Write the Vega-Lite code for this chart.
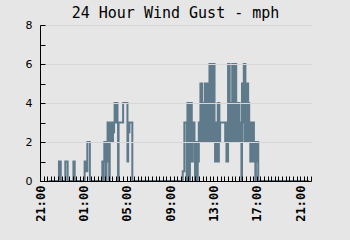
{
"$schema": "https://vega.github.io/schema/vega-lite/v6.json",
"width": 271, "height": 156,
"autosize": {"type": "none"},
"padding": {"left": 40, "top": 25, "right": 39, "bottom": 59},
"background": "#e6e6e6",
"title": {"text": "24 Hour Wind Gust - mph", "font": "DejaVu Sans Mono", "fontSize": 15, "fontWeight": "normal", "color": "#000000", "anchor": "middle", "offset": -2},
"config": {"view": {"stroke": null}, "axis": {"domainColor": "#000000", "tickColor": "#000000", "labelColor": "#000000", "domainWidth": 1, "tickWidth": 1}},
"data": {"values": [
{"t":"2024-01-01T21:48:00","v":0},
{"t":"2024-01-01T22:45:00","v":1},
{"t":"2024-01-01T22:55:00","v":0},
{"t":"2024-01-01T23:20:00","v":1},
{"t":"2024-01-01T23:33:00","v":0},
{"t":"2024-01-02T00:05:00","v":1},
{"t":"2024-01-02T00:12:00","v":0},
{"t":"2024-01-02T01:07:00","v":1},
{"t":"2024-01-02T01:12:00","v":0.5},
{"t":"2024-01-02T01:22:00","v":2},
{"t":"2024-01-02T01:36:00","v":0},
{"t":"2024-01-02T02:45:00","v":1},
{"t":"2024-01-02T02:50:00","v":0},
{"t":"2024-01-02T02:53:00","v":1},
{"t":"2024-01-02T02:56:00","v":2},
{"t":"2024-01-02T02:59:00","v":1},
{"t":"2024-01-02T03:02:00","v":2},
{"t":"2024-01-02T03:05:00","v":0},
{"t":"2024-01-02T03:08:00","v":2},
{"t":"2024-01-02T03:11:00","v":1},
{"t":"2024-01-02T03:14:00","v":3},
{"t":"2024-01-02T03:17:00","v":2},
{"t":"2024-01-02T03:20:00","v":3},
{"t":"2024-01-02T03:23:00","v":0},
{"t":"2024-01-02T03:26:00","v":3},
{"t":"2024-01-02T03:29:00","v":2},
{"t":"2024-01-02T03:32:00","v":3},
{"t":"2024-01-02T03:35:00","v":2},
{"t":"2024-01-02T03:38:00","v":3},
{"t":"2024-01-02T03:41:00","v":2},
{"t":"2024-01-02T03:44:00","v":3},
{"t":"2024-01-02T03:47:00","v":2.5},
{"t":"2024-01-02T03:50:00","v":3},
{"t":"2024-01-02T03:53:00","v":4},
{"t":"2024-01-02T03:56:00","v":3},
{"t":"2024-01-02T03:59:00","v":4},
{"t":"2024-01-02T04:02:00","v":3},
{"t":"2024-01-02T04:05:00","v":4},
{"t":"2024-01-02T04:09:00","v":3},
{"t":"2024-01-02T04:12:00","v":0},
{"t":"2024-01-02T04:15:00","v":3},
{"t":"2024-01-02T04:40:00","v":4},
{"t":"2024-01-02T05:04:00","v":1},
{"t":"2024-01-02T05:08:00","v":3},
{"t":"2024-01-02T05:12:00","v":2.5},
{"t":"2024-01-02T05:15:00","v":3},
{"t":"2024-01-02T05:31:00","v":0},
{"t":"2024-01-02T10:10:00","v":0.5},
{"t":"2024-01-02T10:19:00","v":3},
{"t":"2024-01-02T10:32:00","v":0},
{"t":"2024-01-02T10:36:00","v":4},
{"t":"2024-01-02T10:40:00","v":1},
{"t":"2024-01-02T10:44:00","v":4},
{"t":"2024-01-02T10:47:00","v":0},
{"t":"2024-01-02T10:50:00","v":4},
{"t":"2024-01-02T10:54:00","v":1},
{"t":"2024-01-02T10:57:00","v":4},
{"t":"2024-01-02T11:00:00","v":3},
{"t":"2024-01-02T11:03:00","v":1},
{"t":"2024-01-02T11:06:00","v":3},
{"t":"2024-01-02T11:09:00","v":2},
{"t":"2024-01-02T11:12:00","v":3},
{"t":"2024-01-02T11:15:00","v":2},
{"t":"2024-01-02T11:18:00","v":0},
{"t":"2024-01-02T11:21:00","v":2},
{"t":"2024-01-02T11:24:00","v":1},
{"t":"2024-01-02T11:27:00","v":2},
{"t":"2024-01-02T11:30:00","v":0},
{"t":"2024-01-02T11:33:00","v":2},
{"t":"2024-01-02T11:36:00","v":1},
{"t":"2024-01-02T11:39:00","v":3},
{"t":"2024-01-02T11:42:00","v":2},
{"t":"2024-01-02T11:45:00","v":3},
{"t":"2024-01-02T11:48:00","v":5},
{"t":"2024-01-02T11:51:00","v":2},
{"t":"2024-01-02T11:54:00","v":5},
{"t":"2024-01-02T11:57:00","v":3},
{"t":"2024-01-02T12:01:00","v":4},
{"t":"2024-01-02T12:04:00","v":2},
{"t":"2024-01-02T12:07:00","v":3},
{"t":"2024-01-02T12:10:00","v":2},
{"t":"2024-01-02T12:12:00","v":5},
{"t":"2024-01-02T12:15:00","v":2},
{"t":"2024-01-02T12:18:00","v":5},
{"t":"2024-01-02T12:21:00","v":3},
{"t":"2024-01-02T12:24:00","v":5},
{"t":"2024-01-02T12:27:00","v":2},
{"t":"2024-01-02T12:30:00","v":4},
{"t":"2024-01-02T12:33:00","v":2},
{"t":"2024-01-02T12:36:00","v":5},
{"t":"2024-01-02T12:38:00","v":6},
{"t":"2024-01-02T12:41:00","v":2},
{"t":"2024-01-02T12:44:00","v":6},
{"t":"2024-01-02T12:47:00","v":2},
{"t":"2024-01-02T12:50:00","v":6},
{"t":"2024-01-02T12:52:00","v":5},
{"t":"2024-01-02T12:56:00","v":6},
{"t":"2024-01-02T12:59:00","v":2},
{"t":"2024-01-02T13:02:00","v":6},
{"t":"2024-01-02T13:06:00","v":3},
{"t":"2024-01-02T13:09:00","v":1},
{"t":"2024-01-02T13:12:00","v":3},
{"t":"2024-01-02T13:15:00","v":1},
{"t":"2024-01-02T13:18:00","v":3},
{"t":"2024-01-02T13:21:00","v":2},
{"t":"2024-01-02T13:24:00","v":4},
{"t":"2024-01-02T13:27:00","v":1},
{"t":"2024-01-02T13:30:00","v":4},
{"t":"2024-01-02T13:33:00","v":2},
{"t":"2024-01-02T13:37:00","v":3},
{"t":"2024-01-02T14:05:00","v":2},
{"t":"2024-01-02T14:08:00","v":3},
{"t":"2024-01-02T14:12:00","v":1},
{"t":"2024-01-02T14:15:00","v":2},
{"t":"2024-01-02T14:18:00","v":1},
{"t":"2024-01-02T14:21:00","v":6},
{"t":"2024-01-02T14:24:00","v":2},
{"t":"2024-01-02T14:27:00","v":6},
{"t":"2024-01-02T14:30:00","v":3},
{"t":"2024-01-02T14:34:00","v":4},
{"t":"2024-01-02T14:37:00","v":2},
{"t":"2024-01-02T14:40:00","v":4},
{"t":"2024-01-02T14:44:00","v":6},
{"t":"2024-01-02T14:47:00","v":2},
{"t":"2024-01-02T14:50:00","v":6},
{"t":"2024-01-02T14:53:00","v":3},
{"t":"2024-01-02T14:56:00","v":6},
{"t":"2024-01-02T14:59:00","v":2},
{"t":"2024-01-02T15:02:00","v":6},
{"t":"2024-01-02T15:06:00","v":4},
{"t":"2024-01-02T15:09:00","v":2},
{"t":"2024-01-02T15:12:00","v":4},
{"t":"2024-01-02T15:15:00","v":3},
{"t":"2024-01-02T15:18:00","v":2},
{"t":"2024-01-02T15:21:00","v":4},
{"t":"2024-01-02T15:24:00","v":2},
{"t":"2024-01-02T15:26:00","v":3},
{"t":"2024-01-02T15:29:00","v":2},
{"t":"2024-01-02T15:32:00","v":3},
{"t":"2024-01-02T15:35:00","v":0},
{"t":"2024-01-02T15:38:00","v":5},
{"t":"2024-01-02T15:41:00","v":3},
{"t":"2024-01-02T15:44:00","v":5},
{"t":"2024-01-02T15:48:00","v":6},
{"t":"2024-01-02T15:51:00","v":2},
{"t":"2024-01-02T15:54:00","v":6},
{"t":"2024-01-02T15:57:00","v":5},
{"t":"2024-01-02T16:00:00","v":2},
{"t":"2024-01-02T16:03:00","v":5},
{"t":"2024-01-02T16:06:00","v":3},
{"t":"2024-01-02T16:09:00","v":5},
{"t":"2024-01-02T16:12:00","v":2},
{"t":"2024-01-02T16:15:00","v":4},
{"t":"2024-01-02T16:18:00","v":2},
{"t":"2024-01-02T16:21:00","v":3},
{"t":"2024-01-02T16:24:00","v":1},
{"t":"2024-01-02T16:27:00","v":3},
{"t":"2024-01-02T16:30:00","v":1},
{"t":"2024-01-02T16:33:00","v":3},
{"t":"2024-01-02T16:36:00","v":1},
{"t":"2024-01-02T16:40:00","v":3},
{"t":"2024-01-02T16:44:00","v":1},
{"t":"2024-01-02T16:49:00","v":2},
{"t":"2024-01-02T16:52:00","v":0},
{"t":"2024-01-02T16:55:00","v":2},
{"t":"2024-01-02T16:59:00","v":1},
{"t":"2024-01-02T17:02:00","v":2},
{"t":"2024-01-02T17:08:00","v":0},
{"t":"2024-01-02T21:50:00","v":0}
]},
"mark": {"type": "line", "interpolate": "step-after", "color": "#5f7a8b", "strokeWidth": 2},
"encoding": {
  "x": {"field": "t", "type": "temporal",
        "scale": {"domain": [{"year": 2024, "month": 1, "date": 1, "hours": 21}, {"year": 2024, "month": 1, "date": 2, "hours": 22}]},
        "axis": {"title": null, "grid": false, "zindex": 1,
                 "values": [
{"year":2024,"month":1,"date":1,"hours":21,"minutes":0},{"year":2024,"month":1,"date":1,"hours":21,"minutes":20},{"year":2024,"month":1,"date":1,"hours":21,"minutes":40},
{"year":2024,"month":1,"date":1,"hours":22,"minutes":0},{"year":2024,"month":1,"date":1,"hours":22,"minutes":20},{"year":2024,"month":1,"date":1,"hours":22,"minutes":40},
{"year":2024,"month":1,"date":1,"hours":23,"minutes":0},{"year":2024,"month":1,"date":1,"hours":23,"minutes":20},{"year":2024,"month":1,"date":1,"hours":23,"minutes":40},
{"year":2024,"month":1,"date":2,"hours":0,"minutes":0},{"year":2024,"month":1,"date":2,"hours":0,"minutes":20},{"year":2024,"month":1,"date":2,"hours":0,"minutes":40},
{"year":2024,"month":1,"date":2,"hours":1,"minutes":0},{"year":2024,"month":1,"date":2,"hours":1,"minutes":20},{"year":2024,"month":1,"date":2,"hours":1,"minutes":40},
{"year":2024,"month":1,"date":2,"hours":2,"minutes":0},{"year":2024,"month":1,"date":2,"hours":2,"minutes":20},{"year":2024,"month":1,"date":2,"hours":2,"minutes":40},
{"year":2024,"month":1,"date":2,"hours":3,"minutes":0},{"year":2024,"month":1,"date":2,"hours":3,"minutes":20},{"year":2024,"month":1,"date":2,"hours":3,"minutes":40},
{"year":2024,"month":1,"date":2,"hours":4,"minutes":0},{"year":2024,"month":1,"date":2,"hours":4,"minutes":20},{"year":2024,"month":1,"date":2,"hours":4,"minutes":40},
{"year":2024,"month":1,"date":2,"hours":5,"minutes":0},{"year":2024,"month":1,"date":2,"hours":5,"minutes":20},{"year":2024,"month":1,"date":2,"hours":5,"minutes":40},
{"year":2024,"month":1,"date":2,"hours":6,"minutes":0},{"year":2024,"month":1,"date":2,"hours":6,"minutes":20},{"year":2024,"month":1,"date":2,"hours":6,"minutes":40},
{"year":2024,"month":1,"date":2,"hours":7,"minutes":0},{"year":2024,"month":1,"date":2,"hours":7,"minutes":20},{"year":2024,"month":1,"date":2,"hours":7,"minutes":40},
{"year":2024,"month":1,"date":2,"hours":8,"minutes":0},{"year":2024,"month":1,"date":2,"hours":8,"minutes":20},{"year":2024,"month":1,"date":2,"hours":8,"minutes":40},
{"year":2024,"month":1,"date":2,"hours":9,"minutes":0},{"year":2024,"month":1,"date":2,"hours":9,"minutes":20},{"year":2024,"month":1,"date":2,"hours":9,"minutes":40},
{"year":2024,"month":1,"date":2,"hours":10,"minutes":0},{"year":2024,"month":1,"date":2,"hours":10,"minutes":20},{"year":2024,"month":1,"date":2,"hours":10,"minutes":40},
{"year":2024,"month":1,"date":2,"hours":11,"minutes":0},{"year":2024,"month":1,"date":2,"hours":11,"minutes":20},{"year":2024,"month":1,"date":2,"hours":11,"minutes":40},
{"year":2024,"month":1,"date":2,"hours":12,"minutes":0},{"year":2024,"month":1,"date":2,"hours":12,"minutes":20},{"year":2024,"month":1,"date":2,"hours":12,"minutes":40},
{"year":2024,"month":1,"date":2,"hours":13,"minutes":0},{"year":2024,"month":1,"date":2,"hours":13,"minutes":20},{"year":2024,"month":1,"date":2,"hours":13,"minutes":40},
{"year":2024,"month":1,"date":2,"hours":14,"minutes":0},{"year":2024,"month":1,"date":2,"hours":14,"minutes":20},{"year":2024,"month":1,"date":2,"hours":14,"minutes":40},
{"year":2024,"month":1,"date":2,"hours":15,"minutes":0},{"year":2024,"month":1,"date":2,"hours":15,"minutes":20},{"year":2024,"month":1,"date":2,"hours":15,"minutes":40},
{"year":2024,"month":1,"date":2,"hours":16,"minutes":0},{"year":2024,"month":1,"date":2,"hours":16,"minutes":20},{"year":2024,"month":1,"date":2,"hours":16,"minutes":40},
{"year":2024,"month":1,"date":2,"hours":17,"minutes":0},{"year":2024,"month":1,"date":2,"hours":17,"minutes":20},{"year":2024,"month":1,"date":2,"hours":17,"minutes":40},
{"year":2024,"month":1,"date":2,"hours":18,"minutes":0},{"year":2024,"month":1,"date":2,"hours":18,"minutes":20},{"year":2024,"month":1,"date":2,"hours":18,"minutes":40},
{"year":2024,"month":1,"date":2,"hours":19,"minutes":0},{"year":2024,"month":1,"date":2,"hours":19,"minutes":20},{"year":2024,"month":1,"date":2,"hours":19,"minutes":40},
{"year":2024,"month":1,"date":2,"hours":20,"minutes":0},{"year":2024,"month":1,"date":2,"hours":20,"minutes":20},{"year":2024,"month":1,"date":2,"hours":20,"minutes":40},
{"year":2024,"month":1,"date":2,"hours":21,"minutes":0},{"year":2024,"month":1,"date":2,"hours":21,"minutes":20},{"year":2024,"month":1,"date":2,"hours":21,"minutes":40},
{"year":2024,"month":1,"date":2,"hours":22,"minutes":0}],
                 "labelExpr": "minutes(datum.value) == 0 && hours(datum.value) % 4 == 1 ? timeFormat(datum.value, '%H:%M') : ''",
                 "labelAngle": -90, "labelFont": "DejaVu Sans Mono", "labelFontWeight": "bold", "labelFontSize": 12,
                 "tickSize": -5, "labelPadding": 9, "labelOverlap": false, "labelFlush": false,
                 "encode": {"ticks": {"update": {"y2": {"signal": "minutes(datum.value) == 0 && hours(datum.value) % 2 == 1 ? -5 : -3"}}}}}},
  "y": {"field": "v", "type": "quantitative",
        "scale": {"domain": [0, 8], "nice": false},
        "axis": {"title": null, "values": [0, 1, 2, 3, 4, 5, 6, 7, 8], "tickSize": -5, "grid": true, "gridColor": "#d6d6d6", "zindex": 1,
                 "gridOpacity": {"condition": {"test": "datum.value % 2 == 1", "value": 0}, "value": 1},
                 "labelExpr": "datum.value % 2 == 0 ? datum.label : ''",
                 "labelFont": "DejaVu Sans", "labelFontSize": 11, "labelPadding": 13,
                 "encode": {"ticks": {"update": {"x2": {"signal": "datum.value % 2 == 0 ? 5 : 3"}}}}}}
}
}
